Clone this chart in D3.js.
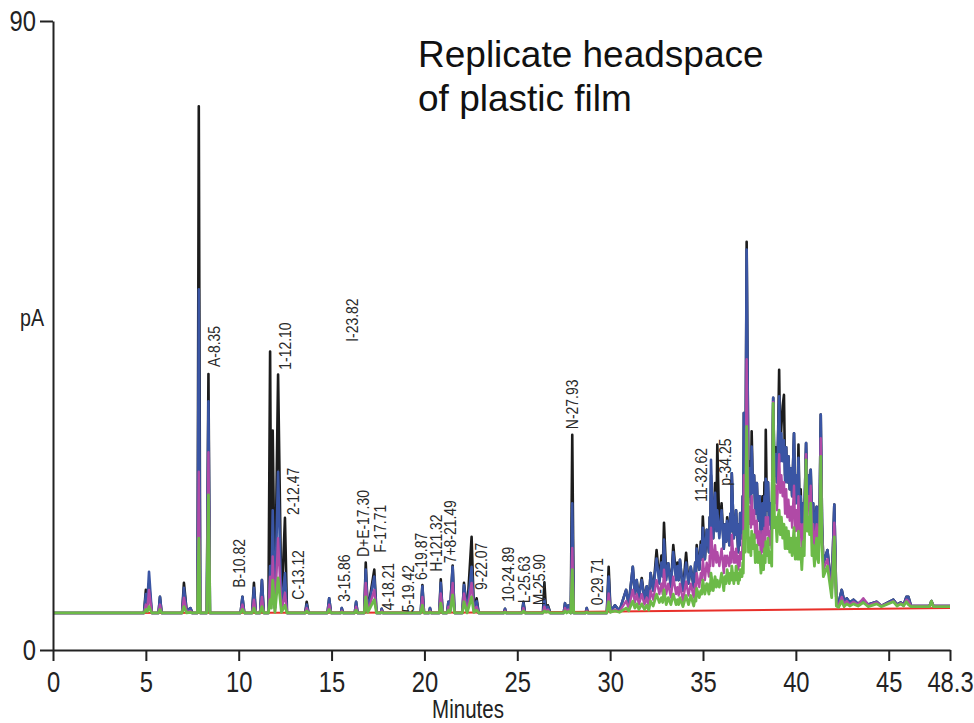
<!DOCTYPE html>
<html>
<head>
<meta charset="utf-8">
<script src="https://cdn.jsdelivr.net/npm/d3@7"></script>
<style>
  body { margin: 0; background: #fff; }
  text { font-family: "Liberation Sans", Arial, sans-serif; }
</style>
</head>
<body>
<div id="chart"></div>
<script>
// retention time (minutes) for every point of the traces
const minutes = [
  0, 4.9, 5.0, 5.08, 5.17, 5.32, 5.68, 5.76, 5.85, 6.95,
  7.05, 7.2, 7.4, 7.5, 7.78, 7.85, 7.93, 8.28, 8.37, 8.45,
  10.1, 10.2, 10.3, 10.72, 10.82, 10.92, 11.15, 11.25, 11.35, 11.6,
  11.69, 11.76, 11.83, 11.95, 12.12, 12.3, 12.49, 12.6, 13.58, 13.66,
  13.76, 14.78, 14.87, 14.97, 15.5, 15.55, 15.62, 16.25, 16.32, 16.4,
  16.76, 16.84, 16.95, 17.3, 17.42, 17.65, 17.7, 17.76, 19.8, 19.89,
  19.98, 20.25, 20.3, 20.36, 20.8, 20.88, 20.98, 21.22, 21.29, 21.38,
  21.52, 21.62, 22.04, 22.13, 22.3, 22.54, 22.66, 22.81, 22.92, 24.28,
  24.34, 24.4, 25.25, 25.33, 25.42, 26.38, 26.46, 26.55, 26.65, 26.78,
  27.5, 27.57, 27.66, 27.75, 27.88, 27.96, 28.04, 28.68, 28.74, 28.8,
  29.82, 29.92, 30.02, 30.26, 30.5, 30.86, 31.0, 31.22, 31.33, 31.43,
  31.55, 31.7, 31.85, 31.97, 32.08, 32.18, 32.32, 32.5, 32.65, 32.76,
  32.83, 32.9, 33.02, 33.13, 33.27, 33.4, 33.55, 33.62, 33.69, 33.76,
  33.92, 34.09, 34.22, 34.34, 34.5, 34.58, 34.62, 34.66, 34.8, 34.88,
  34.93, 34.99, 35.1, 35.2, 35.32, 35.36, 35.39, 35.43, 35.55, 35.65,
  35.72, 35.77, 35.88, 36.0, 36.12, 36.18, 36.24, 36.3, 36.42, 36.47,
  36.51, 36.55, 36.66, 36.7, 36.74, 36.78, 36.9, 36.94, 36.97, 37.0,
  37.1, 37.14, 37.17, 37.2, 37.28, 37.35, 37.45, 37.53, 37.58, 37.62,
  37.69, 37.75, 37.82, 37.9, 37.97, 38.05, 38.12, 38.2, 38.26, 38.31,
  38.35, 38.38, 38.44, 38.5, 38.56, 38.62, 38.7, 38.78, 38.85, 38.92,
  38.98, 39.04, 39.1, 39.16, 39.22, 39.29, 39.36, 39.42, 39.48, 39.54,
  39.6, 39.67, 39.74, 39.8, 39.9, 39.97, 40.04, 40.09, 40.14, 40.2,
  40.26, 40.32, 40.39, 40.45, 40.55, 40.62, 40.68, 40.74, 40.8, 40.87,
  40.93, 41.0, 41.06, 41.12, 41.18, 41.22, 41.29, 41.34, 41.41, 41.48,
  41.7, 41.93, 42.07, 42.18, 42.3, 42.47, 42.6, 42.74, 42.9, 43.1,
  43.35, 43.63, 43.9, 44.35, 44.6, 45.25, 45.45, 45.65, 45.8, 45.95,
  46.06, 46.2, 47.2, 47.3, 47.4, 48.3
];

// detector signal (pA) of the four replicate runs
const runBlack = [
  5.3, 5.3, 8.6, 6.5, 9.5, 5.3, 5.3, 7.6, 5.3, 5.3,
  9.6, 5.5, 6.0, 5.3, 5.3, 77.8, 5.3, 5.3, 39.5, 5.3,
  5.3, 7.6, 5.3, 5.3, 9.6, 5.3, 5.3, 10.0, 5.3, 5.3,
  42.7, 8.0, 31.4, 6.0, 39.4, 6.0, 18.9, 5.3, 5.3, 6.9,
  5.3, 5.3, 7.4, 5.3, 5.3, 6.0, 5.3, 5.3, 6.9, 5.3,
  5.3, 12.5, 5.6, 11.5, 5.3, 5.3, 5.9, 5.3, 5.3, 9.3,
  5.3, 5.3, 6.0, 5.3, 5.3, 10.1, 5.3, 5.3, 6.9, 5.6,
  12.1, 5.3, 5.3, 9.6, 5.5, 16.2, 5.8, 7.4, 5.3, 5.3,
  5.9, 5.3, 5.3, 6.9, 5.3, 5.3, 9.7, 5.6, 6.4, 5.3,
  5.3, 6.7, 5.5, 6.4, 5.3, 30.8, 5.3, 5.3, 6.0, 5.3,
  5.3, 11.9, 5.5, 6.4, 5.6, 8.6, 6.5, 11.9, 8.0, 10.0,
  7.5, 10.3, 7.3, 9.1, 6.8, 11.0, 8.5, 14.3, 10.0, 13.5,
  11.0, 18.2, 10.5, 12.4, 9.0, 15.0, 10.5, 12.5, 10.0, 12.9,
  8.5, 13.9, 9.5, 11.9, 9.0, 12.5, 11.0, 15.0, 11.5, 15.5,
  13.0, 19.1, 13.0, 17.2, 14.0, 19.0, 16.0, 25.0, 16.0, 23.9,
  18.0, 29.4, 17.0, 21.0, 14.5, 18.0, 15.5, 19.0, 15.0, 19.5,
  17.0, 25.3, 16.0, 19.0, 16.5, 20.0, 14.0, 18.0, 15.0, 19.6,
  16.0, 22.0, 18.0, 33.9, 20.0, 58.4, 22.0, 27.0, 21.0, 31.3,
  22.5, 25.0, 19.5, 23.9, 18.5, 22.0, 16.0, 22.0, 17.0, 24.0,
  19.0, 31.5, 20.0, 24.0, 18.0, 21.0, 17.0, 36.1, 25.0, 29.0,
  24.0, 30.0, 40.1, 28.0, 32.0, 34.9, 36.5, 25.0, 29.0, 24.0,
  27.7, 23.0, 26.0, 22.0, 31.0, 21.0, 25.0, 21.0, 29.4, 20.0,
  23.0, 16.8, 21.0, 18.0, 29.6, 22.0, 25.0, 21.0, 25.8, 18.5,
  21.0, 16.2, 19.0, 20.5, 16.5, 15.0, 22.0, 33.7, 18.0, 12.4,
  14.3, 8.6, 20.8, 7.0, 6.7, 8.6, 7.0, 7.4, 6.8, 7.2,
  6.6, 7.2, 6.5, 6.9, 6.3, 7.2, 6.5, 6.8, 6.4, 7.6,
  7.6, 6.3, 6.3, 7.0, 6.3, 6.3
];
const runBlue = [
  5.3, 5.3, 8.0, 6.8, 11.2, 5.3, 5.3, 7.6, 5.3, 5.3,
  8.9, 5.5, 6.0, 5.3, 5.3, 51.6, 5.3, 5.3, 35.6, 5.3,
  5.3, 7.6, 5.3, 5.3, 8.9, 5.3, 5.3, 10.0, 5.3, 5.3,
  12.0, 7.0, 20.0, 6.0, 25.5, 5.8, 11.0, 5.3, 5.3, 6.5,
  5.3, 5.3, 7.4, 5.3, 5.3, 6.0, 5.3, 5.3, 6.9, 5.3,
  5.3, 11.5, 5.6, 10.5, 5.3, 5.3, 5.9, 5.3, 5.3, 9.1,
  5.3, 5.3, 6.0, 5.3, 5.3, 9.6, 5.3, 5.3, 6.9, 5.6,
  11.9, 5.3, 5.3, 9.3, 5.5, 11.9, 5.8, 7.0, 5.3, 5.3,
  5.9, 5.3, 5.3, 6.7, 5.3, 5.3, 7.2, 5.6, 6.2, 5.3,
  5.3, 6.7, 5.5, 6.4, 5.3, 21.0, 5.3, 5.3, 6.0, 5.3,
  5.3, 10.5, 5.5, 6.4, 5.6, 8.6, 6.5, 11.9, 8.0, 10.0,
  7.5, 10.0, 7.3, 9.1, 6.8, 11.0, 8.5, 13.1, 9.5, 12.5,
  10.5, 15.8, 10.0, 12.4, 9.0, 14.0, 10.0, 12.0, 10.0, 12.9,
  8.5, 12.5, 9.5, 11.9, 9.0, 12.5, 11.0, 14.5, 11.5, 15.0,
  13.0, 17.5, 13.0, 17.2, 14.0, 19.0, 16.0, 27.2, 16.0, 22.5,
  17.0, 20.0, 16.0, 20.0, 14.5, 18.0, 15.5, 18.5, 15.0, 19.5,
  17.0, 25.3, 16.0, 19.0, 16.5, 20.0, 14.0, 18.0, 15.0, 19.6,
  16.0, 22.0, 18.0, 33.9, 20.0, 57.3, 22.0, 26.0, 21.0, 29.1,
  22.5, 25.0, 19.5, 23.9, 18.5, 22.0, 16.0, 21.0, 17.0, 22.0,
  19.0, 24.5, 20.0, 24.0, 18.0, 21.0, 17.0, 36.1, 25.0, 28.0,
  24.0, 30.0, 36.3, 27.0, 31.0, 27.0, 30.0, 24.0, 29.0, 24.0,
  27.7, 23.0, 26.0, 22.0, 31.0, 21.0, 25.0, 21.0, 27.5, 20.0,
  22.0, 16.8, 21.0, 18.0, 29.6, 22.0, 25.0, 21.0, 25.8, 18.5,
  21.0, 16.2, 19.0, 20.5, 16.5, 15.0, 22.0, 33.7, 18.0, 12.4,
  14.3, 8.6, 20.8, 7.0, 6.7, 8.6, 7.0, 7.4, 6.8, 7.2,
  6.6, 7.2, 6.5, 6.9, 6.3, 7.2, 6.5, 6.8, 6.4, 7.6,
  7.6, 6.3, 6.3, 7.0, 6.3, 6.3
];
const runMagenta = [
  5.3, 5.3, 6.5, 6.0, 8.6, 5.3, 5.3, 6.5, 5.3, 5.3,
  7.5, 5.4, 5.6, 5.3, 5.3, 25.5, 5.3, 5.3, 28.3, 5.3,
  5.3, 6.5, 5.3, 5.3, 7.2, 5.3, 5.3, 7.6, 5.3, 5.3,
  10.5, 6.5, 13.4, 5.6, 16.0, 5.5, 8.2, 5.3, 5.3, 6.0,
  5.3, 5.3, 6.5, 5.3, 5.3, 5.6, 5.3, 5.3, 6.2, 5.3,
  5.3, 9.6, 5.5, 8.6, 5.3, 5.3, 5.6, 5.3, 5.3, 7.6,
  5.3, 5.3, 5.6, 5.3, 5.3, 8.1, 5.3, 5.3, 6.2, 5.5,
  9.6, 5.3, 5.3, 8.1, 5.4, 9.6, 5.6, 6.2, 5.3, 5.3,
  5.6, 5.3, 5.3, 6.0, 5.3, 5.3, 6.2, 5.5, 5.8, 5.3,
  5.3, 6.0, 5.4, 5.8, 5.3, 14.6, 5.3, 5.3, 5.6, 5.3,
  5.3, 8.1, 5.4, 5.8, 5.5, 7.0, 6.0, 8.6, 6.8, 8.0,
  6.5, 8.0, 6.5, 7.5, 6.2, 8.5, 7.2, 10.0, 8.0, 9.5,
  8.0, 11.5, 8.0, 9.5, 7.5, 10.5, 8.0, 9.0, 7.8, 9.5,
  7.0, 9.8, 7.8, 9.5, 7.5, 9.5, 8.5, 11.0, 9.0, 11.0,
  10.0, 13.0, 10.0, 12.5, 10.5, 13.5, 12.0, 17.5, 12.0, 15.0,
  12.5, 14.0, 12.0, 14.5, 11.0, 13.5, 12.0, 13.5, 12.0, 14.0,
  12.5, 16.5, 12.5, 14.0, 12.5, 14.5, 11.5, 13.5, 12.0, 14.0,
  13.0, 16.5, 14.0, 25.0, 17.0, 41.6, 18.0, 20.5, 17.5, 22.0,
  18.0, 20.0, 16.0, 18.5, 15.0, 17.0, 13.5, 17.0, 14.0, 17.5,
  15.5, 19.0, 16.5, 19.0, 15.0, 17.0, 14.5, 35.5, 21.0, 23.5,
  20.0, 24.0, 28.0, 22.5, 25.0, 22.0, 24.0, 19.5, 23.0, 19.0,
  21.5, 18.5, 20.5, 17.5, 23.5, 17.0, 20.0, 17.0, 22.0, 16.5,
  18.0, 14.0, 18.0, 16.0, 28.0, 20.0, 22.0, 19.0, 23.5, 16.0,
  18.0, 14.0, 16.5, 18.0, 15.0, 14.0, 20.0, 30.3, 16.5, 11.5,
  13.0, 8.0, 18.2, 6.6, 6.4, 7.6, 6.6, 7.0, 6.5, 6.9,
  6.5, 7.4, 6.4, 6.8, 6.3, 7.0, 6.4, 6.7, 6.4, 7.2,
  7.0, 6.3, 6.3, 7.0, 6.3, 6.3
];
const runGreen = [
  5.3, 5.3, 5.8, 5.5, 6.2, 5.3, 5.3, 5.8, 5.3, 5.3,
  6.2, 5.3, 5.4, 5.3, 5.3, 16.0, 5.3, 5.3, 22.2, 5.3,
  5.3, 5.8, 5.3, 5.3, 6.0, 5.3, 5.3, 6.2, 5.3, 5.3,
  7.2, 6.0, 10.0, 5.4, 10.3, 5.4, 6.4, 5.3, 5.3, 5.6,
  5.3, 5.3, 5.8, 5.3, 5.3, 5.4, 5.3, 5.3, 5.7, 5.3,
  5.3, 7.6, 5.4, 7.2, 5.3, 5.3, 5.4, 5.3, 5.3, 6.4,
  5.3, 5.3, 5.4, 5.3, 5.3, 6.7, 5.3, 5.3, 5.7, 5.4,
  7.9, 5.3, 5.3, 6.9, 5.3, 7.6, 5.4, 5.7, 5.3, 5.3,
  5.4, 5.3, 5.3, 5.6, 5.3, 5.3, 5.6, 5.4, 5.5, 5.3,
  5.3, 5.6, 5.3, 5.5, 5.3, 11.5, 5.3, 5.3, 5.4, 5.3,
  5.3, 6.9, 5.4, 5.6, 5.4, 6.0, 5.6, 7.0, 6.0, 6.6,
  5.8, 6.6, 5.8, 6.4, 5.7, 7.0, 6.3, 8.0, 6.8, 7.5,
  6.8, 8.6, 6.5, 7.5, 6.5, 8.0, 6.5, 7.2, 6.5, 7.5,
  6.2, 7.8, 6.5, 7.8, 6.3, 7.5, 7.0, 8.8, 7.5, 8.5,
  8.0, 10.0, 8.0, 9.5, 8.0, 9.5, 8.5, 11.0, 8.5, 10.5,
  9.0, 10.0, 9.0, 11.0, 8.5, 10.5, 9.5, 11.5, 9.5, 11.0,
  10.0, 12.0, 9.5, 11.0, 10.0, 12.0, 9.5, 11.0, 10.0, 11.5,
  10.5, 12.5, 11.0, 17.0, 14.0, 32.0, 14.0, 16.0, 13.5, 17.0,
  14.5, 16.5, 12.5, 15.0, 12.5, 14.0, 11.0, 13.5, 11.5, 14.5,
  12.5, 15.5, 13.5, 16.0, 12.5, 14.0, 12.0, 35.3, 17.5, 19.0,
  15.5, 19.0, 20.0, 16.5, 19.0, 16.0, 18.0, 14.5, 17.5, 14.5,
  17.0, 14.0, 16.0, 13.5, 17.5, 13.0, 16.0, 13.0, 17.0, 13.0,
  14.5, 11.5, 15.5, 13.5, 27.2, 17.0, 19.0, 16.5, 21.0, 13.5,
  15.0, 12.0, 14.0, 16.0, 13.0, 12.5, 18.0, 27.7, 15.0, 10.5,
  12.0, 7.5, 16.2, 6.3, 6.1, 7.0, 6.2, 6.6, 6.3, 6.6,
  6.3, 6.8, 6.2, 6.6, 6.2, 6.9, 6.3, 6.6, 6.3, 6.9,
  6.5, 6.2, 6.2, 7.0, 6.2, 6.2
];

// blank run (red baseline)
const blankMinutes = [0, 25, 48.3];
const blankValues = [5.3, 5.35, 6.0];

// peak annotations: text, position (minutes) and bottom of text (pA)
const peakLabels = ['A-8.35', 'B-10.82', '1-12.10', '2-12.47', 'C-13.12', 'I-23.82',
  '3-15.86', 'D+E-17.30', 'F-17.71', '4-18.21', '5-19.42', '6-19.87', 'H-121.32',
  '7+8-21.49', '9-22.07', '10-24.89', 'L-25.63', 'M-25.90', 'N-27.93', '0-29.71',
  '11-32.62', 'p-34.25'];
const labelMinutes = [8.67, 10.02, 12.49, 12.92, 13.19, 16.1,
  15.67, 16.69, 17.61, 18.04, 19.12, 19.82, 20.62,
  21.38, 23.05, 24.5, 25.36, 26.17, 27.95, 29.29,
  34.9, 36.19];
const labelPA = [40.5, 8.9, 40.1, 19.3, 7.2, 44.1,
  6.9, 13.3, 13.9, 5.7, 5.4, 10.0, 11.2,
  12.4, 8.6, 6.9, 6.7, 6.4, 31.6, 6.4,
  21.2, 23.5];

const xTicks = [0, 5, 10, 15, 20, 25, 30, 35, 40, 45, 48.3];
const yTicks = [0, 90];

const width = 974, height = 723;
const squeeze = 0.82; // the original uses a condensed face

[runBlack, runBlue, runMagenta, runGreen].forEach((r, i) => {
  if (r.length !== minutes.length) console.error('run ' + i + ' has ' + r.length + ' points, expected ' + minutes.length);
});

const svg = d3.select('#chart').append('svg')
  .attr('width', width)
  .attr('height', height);

const x = d3.scaleLinear().domain([0, 48.3]).range([53, 950]);
const y = d3.scaleLinear().domain([0, 90]).range([650, 21]);

const line = d3.line()
  .x(d => x(d[0]))
  .y(d => y(d[1]));

// narrow a text horizontally around its own anchor
function condense(sel) {
  sel.each(function() {
    const t = d3.select(this);
    const x0 = +t.attr('x') || 0;
    const prev = t.attr('transform') || '';
    t.attr('x', 0).attr('transform', `${prev} translate(${x0},0) scale(${squeeze},1)`);
  });
}

// traces, black at the back, green on top
const runs = [
  { values: runBlack, color: '#1c1c1c', w: 2.6 },
  { values: runBlue, color: '#3a55a4', w: 2.6 },
  { values: runMagenta, color: '#b04aa6', w: 2.4 },
  { values: null, color: '#e8302a', w: 2 },
  { values: runGreen, color: '#6cba48', w: 2.8 }
];

runs.forEach(r => {
  const pts = r.values
    ? minutes.map((m, i) => [m, r.values[i]])
    : blankMinutes.map((m, i) => [m, blankValues[i]]);
  svg.append('path')
    .attr('d', line(pts))
    .attr('fill', 'none')
    .attr('stroke', r.color)
    .attr('stroke-width', r.w)
    .attr('stroke-linejoin', 'round');
});

// axes
const xAxis = svg.append('g')
  .attr('transform', 'translate(0,650)')
  .call(d3.axisBottom(x).tickValues(xTicks).tickFormat(d => d).tickSize(11).tickSizeOuter(0).tickPadding(10));

const yAxis = svg.append('g')
  .attr('transform', 'translate(53,0)')
  .call(d3.axisLeft(y).tickValues(yTicks).tickSize(13).tickSizeOuter(0).tickPadding(4));

[xAxis, yAxis].forEach(g => {
  g.attr('font-family', null).attr('font-size', null);
  g.select('.domain').attr('stroke', '#222').attr('stroke-width', 2);
  g.selectAll('.tick line').attr('stroke', '#222').attr('stroke-width', 2);
  g.selectAll('.tick text')
    .attr('fill', '#222')
    .attr('font-size', 29)
    .call(condense);
});

svg.append('text')
  .attr('x', 468).attr('y', 718)
  .attr('text-anchor', 'middle')
  .attr('font-size', 25)
  .attr('fill', '#222')
  .text('Minutes')
  .call(condense);

svg.append('text')
  .attr('x', 20).attr('y', 326)
  .attr('font-size', 24)
  .attr('fill', '#222')
  .text('pA')
  .call(condense);

// title
const title = svg.append('text')
  .attr('font-size', 37)
  .attr('fill', '#111');
title.append('tspan').attr('x', 418).attr('y', 67).text('Replicate headspace');
title.append('tspan').attr('x', 418).attr('y', 111).text('of plastic film');

// peak labels, rotated to read upwards
svg.append('g')
  .selectAll('text')
  .data(peakLabels)
  .join('text')
  .attr('transform', (d, i) => `translate(${x(labelMinutes[i])},${y(labelPA[i])}) rotate(-90)`)
  .attr('dy', '0.35em')
  .attr('font-size', 17)
  .attr('fill', '#2a2a2a')
  .text(d => d)
  .call(condense);
</script>
</body>
</html>
